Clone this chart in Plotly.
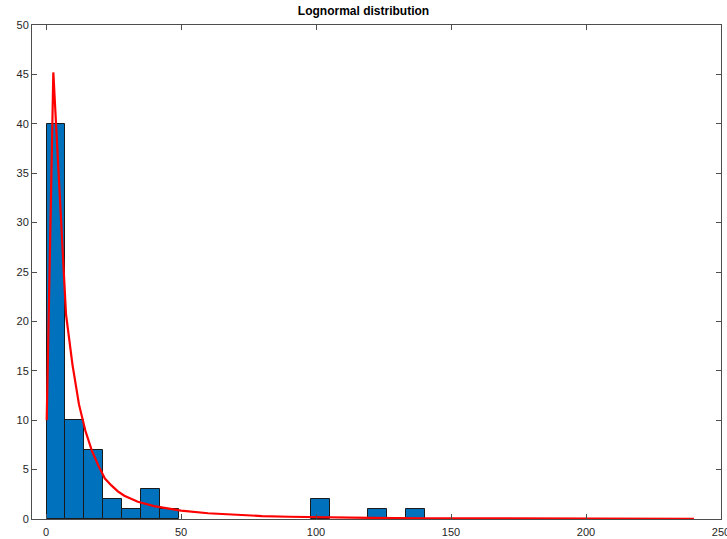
import plotly.graph_objects as go

# Histogram (20 bins, width 7, starting at 0.2)
bin_start = 0.2
bin_width = 7.0
counts = [40, 10, 7, 2, 1, 3, 1, 0, 0, 0, 0, 0, 0, 0, 2, 0, 0, 1, 0, 1]

# Fitted lognormal curve
curve_x = [0.25, 2.7, 5.0, 7.4, 9.8, 12.2, 14.6, 17.0, 19.4, 21.8, 24.2, 26.6, 29.0,
           34, 40, 45, 50, 60, 70, 80, 90, 100, 120, 140, 160, 180, 200, 220, 240]
curve_y = [10, 45.2, 33.2, 20.7, 15.6, 11.6, 8.9, 6.9, 5.4, 4.1, 3.4, 2.8, 2.35,
           1.75, 1.3, 1.05, 0.85, 0.58, 0.42, 0.3, 0.23, 0.17, 0.11, 0.075, 0.05,
           0.035, 0.025, 0.02, 0.015]

x_ticks = [0, 50, 100, 150, 200, 250]
y_ticks = [0, 5, 10, 15, 20, 25, 30, 35, 40, 45, 50]

centers = [bin_start + bin_width * (i + 0.5) for i in range(len(counts))]
bx = [c for c, n in zip(centers, counts) if n > 0]
by = [n for n in counts if n > 0]

fig = go.Figure()
fig.add_trace(go.Bar(
    x=bx, y=by, width=bin_width,
    marker=dict(color="#0072BD", line=dict(color="#1a1a1a", width=1)),
    showlegend=False,
))
fig.add_trace(go.Scatter(
    x=curve_x, y=curve_y, mode="lines",
    line=dict(color="#ff0000", width=2.2),
    showlegend=False,
))

axis_color = "#4d4d4d"
fig.update_layout(
    width=727, height=539,
    margin=dict(l=32, r=6, t=25, b=20),
    paper_bgcolor="white", plot_bgcolor="white",
    font=dict(family="Liberation Sans, Arial, sans-serif", size=11, color="#262626"),
    title=dict(text="<b>Lognormal distribution</b>", x=0.5, xanchor="center",
               y=1 - 7 / 539, yanchor="top", font=dict(size=12, color="#000000")),
    bargap=0,
)
fig.update_xaxes(
    range=[-5.2, 250], tickvals=x_ticks, ticks="inside", ticklen=5,
    tickcolor=axis_color, showline=True, linecolor=axis_color, linewidth=1,
    mirror="allticks", showgrid=False, zeroline=False,
    automargin=False, ticklabeloverflow="allow", ticklabelstandoff=3,
)
fig.update_yaxes(
    range=[0, 50], tickvals=y_ticks, ticks="inside", ticklen=5,
    tickcolor=axis_color, showline=True, linecolor=axis_color, linewidth=1,
    mirror="allticks", showgrid=False, zeroline=False, automargin=False,
)

fig.write_html("out.html")
